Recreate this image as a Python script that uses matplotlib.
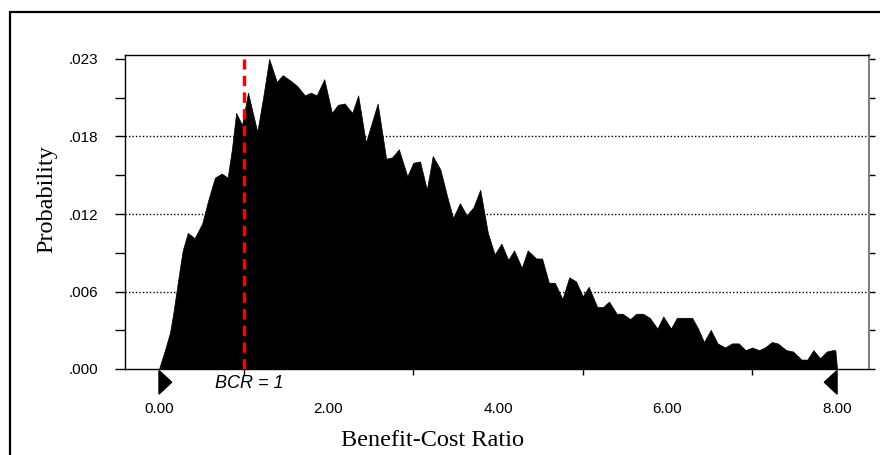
import matplotlib
matplotlib.use('Agg')
import matplotlib.pyplot as plt
from matplotlib.patches import Polygon, Rectangle
import numpy as np

# Benefit-cost ratio distribution (frequency outline)
bcr = [0.00, 0.07, 0.13, 0.17, 0.21, 0.25, 0.28, 0.34, 0.42, 0.51,
       0.58, 0.66, 0.74, 0.81, 0.86, 0.91, 0.98, 1.05, 1.16, 1.23,
       1.30, 1.39, 1.46, 1.55, 1.63, 1.72, 1.79, 1.86, 1.95, 2.04,
       2.11, 2.19, 2.28, 2.35, 2.44, 2.58, 2.68, 2.75, 2.83, 2.93,
       3.00, 3.08, 3.16, 3.23, 3.32, 3.40, 3.47, 3.55, 3.63, 3.71,
       3.79, 3.88, 3.96, 4.04, 4.12, 4.19, 4.28, 4.35, 4.45, 4.52,
       4.60, 4.67, 4.76, 4.84, 4.92, 5.00, 5.07, 5.17, 5.24, 5.31,
       5.40, 5.47, 5.56, 5.63, 5.71, 5.79, 5.88, 5.95, 6.04, 6.11,
       6.20, 6.29, 6.36, 6.43, 6.51, 6.59, 6.68, 6.76, 6.84, 6.92,
       7.00, 7.08, 7.15, 7.23, 7.30, 7.40, 7.48, 7.58, 7.65, 7.72,
       7.80, 7.88, 7.95, 7.98, 8.00]
prob = [0.0000, 0.0014, 0.0027, 0.0042, 0.0059, 0.0076, 0.0088, 0.0101, 0.0097, 0.0108,
        0.0125, 0.0142, 0.0145, 0.0142, 0.0163, 0.0190, 0.0181, 0.0205, 0.0176, 0.0202,
        0.0230, 0.0213, 0.0218, 0.0214, 0.0210, 0.0203, 0.0205, 0.0203, 0.0215, 0.0190,
        0.0196, 0.0197, 0.0190, 0.0203, 0.0168, 0.0197, 0.0156, 0.0157, 0.0163, 0.0143,
        0.0153, 0.0154, 0.0133, 0.0158, 0.0148, 0.0128, 0.0112, 0.0123, 0.0114, 0.0120,
        0.0133, 0.0101, 0.0085, 0.0093, 0.0081, 0.0088, 0.0075, 0.0088, 0.0082, 0.0082,
        0.0064, 0.0064, 0.0052, 0.0068, 0.0065, 0.0054, 0.0061, 0.0046, 0.0046, 0.0050,
        0.0041, 0.0041, 0.0037, 0.0041, 0.0041, 0.0038, 0.0030, 0.0039, 0.0030, 0.0038,
        0.0038, 0.0038, 0.0030, 0.0020, 0.0029, 0.0019, 0.0016, 0.0019, 0.0019, 0.0014,
        0.0016, 0.0014, 0.0016, 0.0020, 0.0019, 0.0014, 0.0013, 0.0007, 0.0007, 0.0014,
        0.0008, 0.0013, 0.0014, 0.0014, 0.0000]

y_top = 0.023
y_labels = ['.000', '.006', '.012', '.018', '.023']
x_labels = ['0.00', '2.00', '4.00', '6.00', '8.00']
x_label_pos = [0, 2, 4, 6, 8]
certainty = (0.0, 8.0)   # range markers under the axis
breakeven = 1.0          # BCR = 1

fig = plt.figure(figsize=(8.8, 4.55), dpi=100)
ax = fig.add_axes([125 / 880, 1 - 369 / 455, 744 / 880, 314 / 455])

ax.fill_between(bcr, prob, 0, color='black', linewidth=0.5, zorder=3)

# dotted horizontal grid
y_ticks = [y_top * i / 4 for i in range(5)]
for yv in y_ticks[1:4]:
    ax.axhline(yv, color='black', linestyle=(0, (1, 1.5)), linewidth=1.0, zorder=1)

# break-even line
ax.plot([breakeven, breakeven], [0, y_top], color='#ff0000', linewidth=2.5,
        dashes=(3.0, 1.8), zorder=4)
ax.text(breakeven + 0.07, -0.045, 'BCR = 1', transform=ax.get_xaxis_transform(),
        ha='center', va='center', fontsize=13, fontstyle='italic',
        family='Liberation Sans')

# certainty-range triangles
w = 0.15
tri_left = Polygon([(certainty[0], -0.005), (certainty[0], -0.080), (certainty[0] + w, -0.042)],
                   closed=True, color='black', transform=ax.get_xaxis_transform(), clip_on=False)
tri_right = Polygon([(certainty[1], -0.005), (certainty[1], -0.080), (certainty[1] - w, -0.042)],
                    closed=True, color='black', transform=ax.get_xaxis_transform(), clip_on=False)
ax.add_patch(tri_left)
ax.add_patch(tri_right)

ax.set_xlim(-0.401, 8.377)
ax.set_ylim(0, y_top * (369 - 55) / (369 - 59))

ax.set_xticks(x_label_pos)
ax.set_xticklabels(x_labels, fontsize=11, family='Liberation Sans')
ax.set_xticks(range(1, 8), minor=True)
ax.tick_params(axis='x', which='major', length=0, pad=24)
ax.tick_params(axis='x', which='minor', length=4, width=1, direction='out')

ax.set_yticks(y_ticks)
ax.set_yticklabels(y_labels, fontsize=11, family='Liberation Sans')
ax.set_yticks([y_top * (i + 0.5) / 4 for i in range(4)], minor=True)
ax.tick_params(axis='y', which='both', length=7, width=1, direction='out', pad=12,
               right=True, labelright=False)

for s in ['left', 'top', 'bottom']:
    ax.spines[s].set_linewidth(1.0)
ax.spines['right'].set_color('#808080')
ax.spines['right'].set_linewidth(1.5)

# short grey ticks on the right side
for t in ax.yaxis.get_major_ticks() + ax.yaxis.get_minor_ticks():
    t.tick2line.set_color('#808080')
    t.tick2line.set_markersize(4)

fig.text(47 / 880, 1 - 199 / 455, 'Probability', rotation=90, ha='center', va='center',
         fontsize=17.5, family='Liberation Serif')
fig.text(432 / 880, 1 - 440 / 455, 'Benefit-Cost Ratio', ha='center', va='center',
         fontsize=17.5, family='Liberation Serif')

# outer frame
fig.add_artist(Rectangle((10 / 880, -0.2), 1.2, 1.2 - 12 / 455, fill=False,
                         linewidth=1.6, edgecolor='black', transform=fig.transFigure))

fig.savefig('out.png', dpi=100)
